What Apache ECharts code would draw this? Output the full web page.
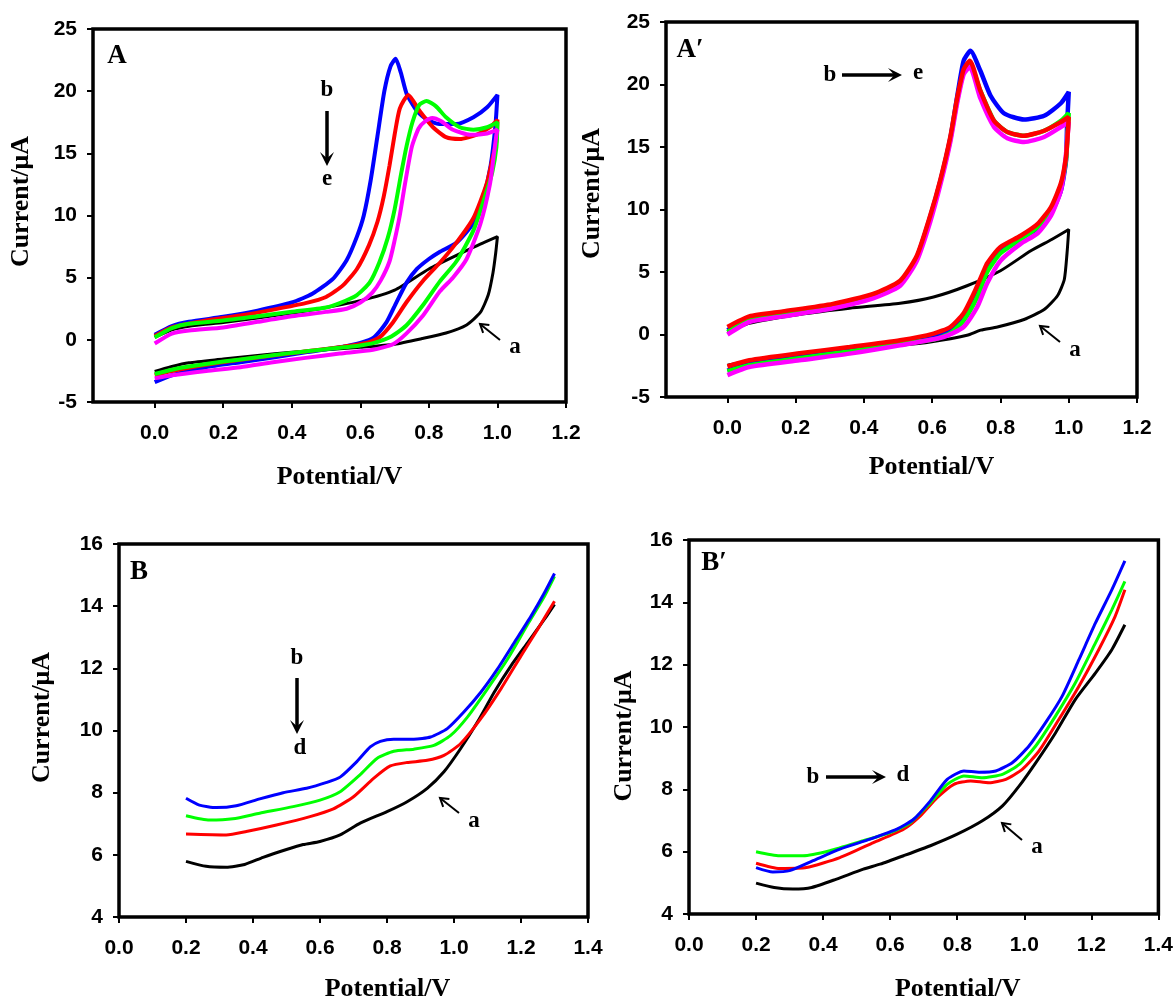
<!DOCTYPE html>
<html>
<head>
<meta charset="utf-8">
<script src="https://cdn.jsdelivr.net/npm/echarts@6/dist/echarts.min.js"></script>
<style>
html, body { margin: 0; padding: 0; background: #fff; }
#chart { width: 1176px; height: 1003px; }
</style>
</head>
<body>
<div id="chart"></div>
<script>
// ---- panel A : CV, forward branch 0 -> 1.0 V then back to 0 V  [V, uA]
const aBlack = [[0,0.2],[0.05,0.8],[0.1,1.1],[0.2,1.4],[0.3,1.75],[0.4,2.15],[0.5,2.6],[0.6,3.15],[0.7,4.0],[0.8,5.7],[0.9,7.05],[0.95,7.7],[1.0,8.3],
  [0.995,7.0],[0.987,5.4],[0.973,3.6],[0.95,2.2],[0.91,1.2],[0.85,0.55],[0.78,0.1],[0.7,-0.35],[0.6,-0.6],[0.5,-0.8],[0.4,-1.0],[0.3,-1.25],[0.2,-1.55],[0.1,-1.85],[0.05,-2.15],[0,-2.55]];
const aBlue = [[0,0.4],[0.05,1.1],[0.1,1.45],[0.2,1.85],[0.3,2.35],[0.4,3.0],[0.46,3.7],[0.52,4.9],[0.56,6.4],[0.59,8.3],[0.61,10.0],[0.63,12.8],[0.65,16.4],[0.67,20.0],[0.688,22.0],[0.703,22.6],[0.718,21.5],[0.735,19.8],[0.765,18.4],[0.795,17.7],[0.83,17.35],[0.88,17.35],[0.93,17.9],[0.97,18.7],[1.0,19.7],
  [0.994,17.2],[0.98,14.0],[0.96,11.6],[0.93,9.4],[0.88,7.8],[0.83,7.05],[0.8,6.5],[0.765,5.7],[0.735,4.6],[0.705,3.0],[0.676,1.4],[0.64,0.2],[0.6,-0.25],[0.54,-0.6],[0.44,-1.0],[0.35,-1.4],[0.25,-1.8],[0.15,-2.2],[0.05,-2.85],[0,-3.4]];
const aRed = [[0,0.3],[0.05,1.0],[0.15,1.55],[0.25,1.95],[0.35,2.45],[0.44,2.95],[0.5,3.45],[0.55,4.4],[0.59,5.7],[0.625,7.6],[0.65,9.5],[0.668,11.5],[0.685,14.0],[0.7,16.5],[0.715,18.6],[0.74,19.7],[0.773,18.4],[0.812,17.1],[0.85,16.3],[0.89,16.15],[0.94,16.5],[0.978,17.1],[1.0,17.7],
  [0.997,16.0],[0.985,14.5],[0.968,12.5],[0.93,9.8],[0.88,7.8],[0.832,6.2],[0.783,4.75],[0.734,3.0],[0.695,1.4],[0.656,0.2],[0.617,-0.25],[0.55,-0.55],[0.45,-0.9],[0.35,-1.25],[0.25,-1.6],[0.15,-2.0],[0.05,-2.5],[0,-2.85]];
const aGreen = [[0,0.2],[0.05,0.95],[0.1,1.3],[0.2,1.55],[0.3,1.9],[0.4,2.25],[0.5,2.6],[0.54,2.95],[0.59,3.6],[0.627,4.6],[0.655,6.2],[0.68,8.2],[0.7,10.5],[0.72,13.5],[0.735,15.6],[0.752,17.5],[0.772,18.9],[0.793,19.2],[0.82,18.8],[0.85,17.9],[0.89,17.1],[0.93,16.9],[0.97,17.1],[1.0,17.5],
  [0.997,15.5],[0.985,13.5],[0.968,11.9],[0.93,8.8],[0.88,6.3],[0.832,4.7],[0.783,2.8],[0.734,1.15],[0.686,0.2],[0.64,-0.25],[0.6,-0.45],[0.5,-0.75],[0.4,-1.05],[0.3,-1.4],[0.2,-1.75],[0.1,-2.15],[0.05,-2.4],[0,-2.75]];
const aMagenta = [[0,-0.3],[0.05,0.5],[0.1,0.75],[0.2,1.0],[0.3,1.45],[0.4,1.9],[0.5,2.25],[0.56,2.5],[0.6,3.0],[0.635,3.8],[0.66,4.8],[0.685,6.3],[0.7,8.0],[0.715,10.0],[0.73,12.5],[0.75,15.5],[0.77,17.0],[0.79,17.6],[0.81,17.85],[0.835,17.6],[0.87,16.9],[0.92,16.5],[0.97,16.6],[1.0,16.9],
  [0.997,16.5],[0.99,15.0],[0.978,12.5],[0.95,9.3],[0.91,6.5],[0.87,5.0],[0.832,3.9],[0.783,1.95],[0.734,0.5],[0.695,-0.35],[0.637,-0.8],[0.54,-1.1],[0.44,-1.45],[0.345,-1.8],[0.25,-2.2],[0.15,-2.5],[0.05,-2.85],[0,-3.1]];

// ---- panel A'
const apBlack = [[0,0.2],[0.064,0.9],[0.211,1.6],[0.358,2.1],[0.506,2.5],[0.604,3.0],[0.702,3.9],[0.8,5.1],[0.889,6.7],[0.95,7.6],[1.0,8.4],
  [0.995,6.5],[0.987,4.4],[0.967,3.1],[0.928,2.0],[0.869,1.2],[0.791,0.6],[0.742,0.35],[0.702,-0.06],[0.594,-0.6],[0.506,-0.86],[0.358,-1.2],[0.211,-1.6],[0.1,-2.0],[0.05,-2.2],[0,-2.45]];
const apBlue = [[0,0.35],[0.064,1.2],[0.162,1.6],[0.309,2.25],[0.427,3.05],[0.506,4.1],[0.555,6.2],[0.594,9.4],[0.624,12.3],[0.653,15.7],[0.673,19.0],[0.692,21.9],[0.712,22.7],[0.741,21.1],[0.771,19.1],[0.81,17.7],[0.869,17.2],[0.928,17.5],[0.977,18.5],[1.0,19.4],
  [0.995,16.6],[0.992,13.9],[0.977,11.5],[0.948,9.7],[0.899,8.3],[0.84,7.5],[0.791,6.4],[0.761,5.3],[0.742,4.3],[0.722,3.0],[0.692,1.4],[0.653,0.35],[0.604,-0.2],[0.506,-0.65],[0.358,-1.25],[0.211,-1.8],[0.064,-2.35],[0,-2.9]];
const apRed = [[0,0.6],[0.064,1.45],[0.162,1.85],[0.309,2.45],[0.427,3.25],[0.506,4.3],[0.555,6.3],[0.594,9.5],[0.624,12.4],[0.653,15.8],[0.673,18.9],[0.692,21.2],[0.71,21.9],[0.741,19.5],[0.781,17.1],[0.82,16.2],[0.869,15.9],[0.928,16.3],[0.977,17.0],[1.0,17.4],
  [0.997,16.0],[0.992,14.2],[0.977,12.1],[0.948,10.2],[0.909,8.85],[0.859,7.9],[0.8,7.0],[0.761,5.7],[0.751,5.1],[0.722,3.3],[0.692,1.7],[0.653,0.6],[0.604,0.07],[0.506,-0.46],[0.358,-1.0],[0.211,-1.5],[0.064,-2.06],[0,-2.55]];
const apGreen = [[0,0.2],[0.064,1.15],[0.162,1.55],[0.309,2.2],[0.427,3.0],[0.506,4.05],[0.555,6.1],[0.594,9.3],[0.624,12.2],[0.653,15.6],[0.673,18.7],[0.692,21.0],[0.71,21.6],[0.741,19.5],[0.781,17.1],[0.82,16.2],[0.869,15.9],[0.928,16.3],[0.977,17.1],[1.0,17.7],
  [0.997,16.2],[0.992,14.0],[0.977,11.9],[0.948,9.9],[0.909,8.6],[0.859,7.6],[0.8,6.5],[0.761,5.0],[0.732,3.0],[0.692,1.1],[0.653,0.1],[0.604,-0.4],[0.506,-0.75],[0.358,-1.35],[0.211,-1.9],[0.064,-2.45],[0,-2.95]];
const apMagenta = [[0,0.0],[0.064,1.0],[0.162,1.45],[0.309,2.1],[0.427,2.9],[0.506,3.9],[0.555,5.9],[0.594,9.0],[0.624,12.0],[0.653,15.4],[0.673,18.5],[0.692,20.8],[0.71,21.4],[0.741,18.9],[0.781,16.6],[0.82,15.7],[0.869,15.4],[0.928,15.8],[0.977,16.6],[1.0,17.0],
  [0.997,16.0],[0.99,13.9],[0.977,11.5],[0.948,9.5],[0.909,8.1],[0.859,7.25],[0.8,5.9],[0.761,4.1],[0.732,2.2],[0.692,0.6],[0.633,-0.2],[0.506,-0.86],[0.358,-1.53],[0.211,-2.06],[0.064,-2.6],[0,-3.25]];

// ---- panel B : DPV
const bBlack = [[0.2,5.79],[0.26,5.63],[0.32,5.6],[0.375,5.69],[0.43,5.92],[0.5,6.17],[0.55,6.33],[0.6,6.43],[0.66,6.64],[0.72,7.02],[0.8,7.39],[0.86,7.71],[0.92,8.14],[0.97,8.67],[1.02,9.42],[1.07,10.27],[1.12,11.23],[1.17,12.08],[1.22,12.83],[1.27,13.58],[1.3,14.06]];
const bBlue = [[0.2,7.82],[0.24,7.6],[0.29,7.52],[0.35,7.58],[0.42,7.8],[0.49,8.0],[0.56,8.14],[0.62,8.33],[0.66,8.5],[0.71,9.0],[0.75,9.47],[0.78,9.65],[0.82,9.72],[0.88,9.72],[0.93,9.79],[0.98,10.06],[1.03,10.6],[1.08,11.23],[1.13,11.98],[1.18,12.83],[1.23,13.68],[1.27,14.43],[1.3,15.05]];
const bGreen = [[0.2,7.26],[0.27,7.12],[0.34,7.16],[0.42,7.34],[0.52,7.55],[0.6,7.76],[0.66,8.03],[0.72,8.58],[0.77,9.1],[0.82,9.33],[0.88,9.4],[0.94,9.52],[0.99,9.84],[1.04,10.43],[1.1,11.34],[1.16,12.3],[1.22,13.42],[1.27,14.32],[1.3,14.96]];
const bRed = [[0.2,6.67],[0.32,6.64],[0.38,6.75],[0.47,6.96],[0.57,7.23],[0.64,7.48],[0.7,7.87],[0.76,8.46],[0.81,8.86],[0.86,8.97],[0.92,9.04],[0.97,9.2],[1.02,9.58],[1.08,10.38],[1.14,11.34],[1.2,12.4],[1.25,13.26],[1.3,14.16]];

// ---- panel B'
const bpBlack = [[0.2,4.99],[0.254,4.85],[0.31,4.8],[0.366,4.85],[0.44,5.12],[0.52,5.44],[0.57,5.6],[0.64,5.87],[0.72,6.19],[0.8,6.56],[0.875,6.99],[0.935,7.47],[0.985,8.11],[1.034,8.85],[1.093,9.81],[1.152,10.88],[1.212,11.73],[1.261,12.48],[1.3,13.28]];
const bpBlue = [[0.2,5.49],[0.25,5.35],[0.3,5.39],[0.37,5.71],[0.45,6.08],[0.54,6.4],[0.62,6.72],[0.67,7.04],[0.72,7.63],[0.77,8.32],[0.82,8.59],[0.865,8.55],[0.915,8.59],[0.965,8.86],[1.014,9.39],[1.063,10.13],[1.113,10.99],[1.163,12.16],[1.212,13.33],[1.261,14.4],[1.3,15.33]];
const bpGreen = [[0.2,6.0],[0.27,5.87],[0.34,5.87],[0.42,6.03],[0.52,6.35],[0.6,6.61],[0.66,6.93],[0.72,7.57],[0.77,8.16],[0.82,8.43],[0.875,8.37],[0.935,8.48],[0.985,8.8],[1.034,9.39],[1.093,10.35],[1.152,11.41],[1.212,12.69],[1.261,13.76],[1.3,14.67]];
const bpRed = [[0.2,5.63],[0.27,5.46],[0.35,5.49],[0.45,5.81],[0.55,6.29],[0.64,6.72],[0.69,7.15],[0.74,7.73],[0.79,8.16],[0.84,8.27],[0.895,8.21],[0.945,8.32],[0.994,8.64],[1.044,9.23],[1.103,10.24],[1.163,11.31],[1.222,12.48],[1.271,13.55],[1.3,14.4]];

const cvTicks = [0, 0.2, 0.4, 0.6, 0.8, 1.0, 1.2];

const SANS = 'Liberation Sans';
const SERIF = 'Liberation Serif';

const chart = echarts.init(document.getElementById('chart'));

const grids = [
  { left: 93, top: 29, width: 473, height: 373 },
  { left: 666, top: 22, width: 471, height: 375 },
  { left: 119, top: 544, width: 469, height: 375 },
  { left: 689, top: 540, width: 471, height: 375 }
].map(g => Object.assign(g, { show: true, borderColor: '#000', borderWidth: 3.5, backgroundColor: '#fff' }));

function tickStyle() {
  return { show: true, inside: false, length: 6, lineStyle: { color: '#000', width: 2 } };
}
function labelStyle() {
  return { color: '#000', fontFamily: SANS, fontWeight: 'bold', fontSize: 21 };
}

function xAxis(gi, opts) {
  const tick = tickStyle();
  const label = Object.assign(labelStyle(), { margin: 21, formatter: v => v.toFixed(1) });
  if (opts.ticks) { tick.customValues = opts.ticks; label.customValues = opts.ticks; }
  return {
    type: 'value', gridIndex: gi, min: opts.min, max: opts.max, interval: opts.interval,
    name: 'Potential/V', nameLocation: 'middle', nameGap: opts.gap,
    nameTextStyle: { color: '#000', fontFamily: SERIF, fontWeight: 'bold', fontSize: 26, padding: [0, 0, 0, opts.shift * 2] },
    axisLine: { show: false, onZero: false }, axisTick: tick, axisLabel: label, splitLine: { show: false }
  };
}
function yAxis(gi, opts) {
  const pad = opts.shift >= 0 ? [0, 0, 0, opts.shift * 2] : [0, -opts.shift * 2, 0, 0];
  return {
    type: 'value', gridIndex: gi, min: opts.min, max: opts.max, interval: opts.interval,
    name: 'Current/μA', nameLocation: 'middle', nameGap: opts.gap,
    nameTextStyle: { color: '#000', fontFamily: SERIF, fontWeight: 'bold', fontSize: 26, padding: pad },
    axisLine: { show: false, onZero: false }, axisTick: tickStyle(),
    axisLabel: Object.assign(labelStyle(), { margin: 16 }), splitLine: { show: false }
  };
}

function curve(gi, data, color, width) {
  return {
    type: 'line', xAxisIndex: gi, yAxisIndex: gi, data: data, symbol: 'none',
    smooth: 0.2, lineStyle: { color: color, width: width }, silent: true
  };
}

// annotation helpers (pixel positions)
function label(text, x, y, size) {
  return { type: 'text', x: x, y: y, z: 100,
    style: { text: text, fill: '#000', font: 'bold ' + size + 'px "' + SERIF + '"', textAlign: 'center', textVerticalAlign: 'middle' } };
}
function bigArrow(x1, y1, x2, y2) {
  const a = Math.atan2(y2 - y1, x2 - x1), L = 14, W = 7;
  const bx = x2 - L * Math.cos(a), by = y2 - L * Math.sin(a);
  const nx = -Math.sin(a), ny = Math.cos(a);
  return [
    { type: 'line', z: 100, shape: { x1: x1, y1: y1, x2: x2 - 6 * Math.cos(a), y2: y2 - 6 * Math.sin(a) }, style: { stroke: '#000', lineWidth: 3.5 } },
    { type: 'polygon', z: 100, shape: { points: [[x2, y2], [bx + nx * W, by + ny * W], [x2 - 0.55 * L * Math.cos(a), y2 - 0.55 * L * Math.sin(a)], [bx - nx * W, by - ny * W]] }, style: { fill: '#000' } }
  ];
}
function smallArrow(x1, y1, x2, y2) {
  const a = Math.atan2(y2 - y1, x2 - x1), L = 8, W = 5;
  const bx = x2 - L * Math.cos(a), by = y2 - L * Math.sin(a);
  const nx = -Math.sin(a), ny = Math.cos(a);
  return [
    { type: 'line', z: 100, shape: { x1: x1, y1: y1, x2: x2, y2: y2 }, style: { stroke: '#000', lineWidth: 2 } },
    { type: 'polyline', z: 100, shape: { points: [[bx + nx * W, by + ny * W], [x2, y2], [bx - nx * W, by - ny * W]] }, style: { stroke: '#000', lineWidth: 2, fill: null } }
  ];
}

const graphics = [
  label('A', 117, 56, 27), label('A′', 690, 50, 27), label('B', 139, 572, 27), label('B′', 714, 563, 27),
  label('b', 327, 90, 23), label('e', 327, 179, 23), ...bigArrow(327, 111, 327, 166),
  label('a', 515, 347, 23), ...smallArrow(500, 340, 480, 324),
  label('b', 830, 75, 23), label('e', 918, 73, 23), ...bigArrow(842, 75, 902, 75),
  label('a', 1075, 350, 23), ...smallArrow(1060, 342, 1040, 326),
  label('b', 297, 658, 23), label('d', 300, 748, 23), ...bigArrow(297, 678, 297, 734),
  label('a', 474, 821, 23), ...smallArrow(459, 813, 440, 798),
  label('b', 813, 777, 23), label('d', 903, 775, 23), ...bigArrow(826, 777, 886, 777),
  label('a', 1037, 847, 23), ...smallArrow(1022, 840, 1002, 823)
];

chart.setOption({
  animation: false,
  backgroundColor: '#fff',
  grid: grids,
  xAxis: [
    xAxis(0, { min: -0.18, max: 1.2, ticks: cvTicks, gap: 62, shift: 10 }),
    xAxis(1, { min: -0.18, max: 1.2, ticks: cvTicks, gap: 57, shift: 30 }),
    xAxis(2, { min: 0, max: 1.4, interval: 0.2, gap: 59, shift: 34 }),
    xAxis(3, { min: 0, max: 1.4, interval: 0.2, gap: 62, shift: 34 })
  ],
  yAxis: [
    yAxis(0, { min: -5, max: 25, interval: 5, gap: 59, shift: 14 }),
    yAxis(1, { min: -5, max: 25, interval: 5, gap: 61, shift: 16 }),
    yAxis(2, { min: 4, max: 16, interval: 2, gap: 64, shift: 13 }),
    yAxis(3, { min: 4, max: 16, interval: 2, gap: 52, shift: -9 })
  ],
  series: [
    curve(0, aBlack, '#000000', 3), curve(0, aBlue, '#0000ff', 4), curve(0, aRed, '#ff0000', 4),
    curve(0, aGreen, '#00ff00', 4), curve(0, aMagenta, '#ff00ff', 4),
    curve(1, apBlack, '#000000', 3), curve(1, apBlue, '#0000ff', 4.5), curve(1, apGreen, '#00ff00', 4.5),
    curve(1, apMagenta, '#ff00ff', 4.5), curve(1, apRed, '#ff0000', 4.5),
    curve(2, bBlack, '#000000', 3), curve(2, bRed, '#ff0000', 3), curve(2, bGreen, '#00ff00', 3), curve(2, bBlue, '#0000ff', 3),
    curve(3, bpBlack, '#000000', 3), curve(3, bpRed, '#ff0000', 3), curve(3, bpGreen, '#00ff00', 3), curve(3, bpBlue, '#0000ff', 3)
  ],
  graphic: graphics
});
</script>
</body>
</html>
